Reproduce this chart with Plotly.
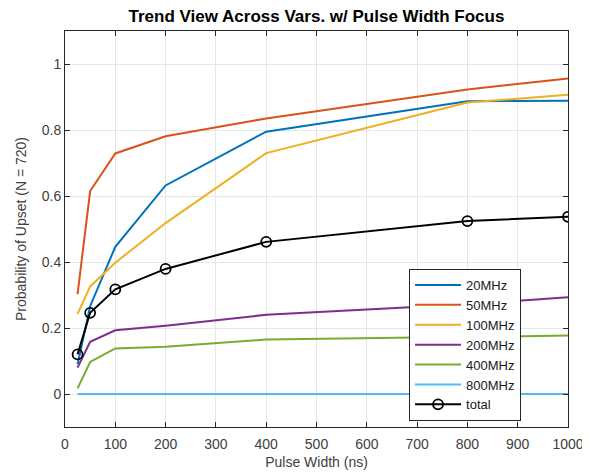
import plotly.graph_objects as go

pulse_width = [25, 50, 100, 200, 400, 800, 1000]
p_20mhz = [0.09, 0.266, 0.446, 0.632, 0.795, 0.887, 0.889]
p_50mhz = [0.303, 0.615, 0.729, 0.781, 0.835, 0.923, 0.956]
p_100mhz = [0.243, 0.326, 0.398, 0.518, 0.73, 0.883, 0.907]
p_200mhz = [0.08, 0.158, 0.193, 0.207, 0.24, 0.272, 0.293]
p_400mhz = [0.017, 0.097, 0.138, 0.143, 0.165, 0.173, 0.177]
p_800mhz = [0, 0, 0, 0, 0, 0, 0]
p_total = [0.12, 0.246, 0.317, 0.379, 0.461, 0.524, 0.537]

series = [
    ("20MHz", p_20mhz, "#0072BD"),
    ("50MHz", p_50mhz, "#D95319"),
    ("100MHz", p_100mhz, "#EDB120"),
    ("200MHz", p_200mhz, "#7E2F8E"),
    ("400MHz", p_400mhz, "#77AC30"),
    ("800MHz", p_800mhz, "#4DBEEE"),
]

FONT = "Liberation Sans, Arial, sans-serif"

fig = go.Figure()
for name, vals, col in series:
    fig.add_trace(go.Scatter(x=pulse_width, y=vals, mode="lines", name=name,
                             line=dict(color=col, width=2)))
fig.add_trace(go.Scatter(x=pulse_width, y=p_total, mode="lines+markers", name="total",
                         line=dict(color="black", width=2),
                         marker=dict(symbol="circle-open", size=10, color="black",
                                     line=dict(width=1.8, color="black"))))

axis_common = dict(
    showline=True, linecolor="#262626", linewidth=1, mirror="ticks",
    ticks="inside", ticklen=5, tickcolor="#262626",
    showgrid=True, gridcolor="#e6e6e6", gridwidth=1, zeroline=False,
    automargin=False,
    tickfont=dict(family=FONT, size=14, color="#404040"),
)

fig.update_layout(
    width=582, height=466,
    margin=dict(l=57, r=22, t=23, b=47, autoexpand=False),
    paper_bgcolor="white", plot_bgcolor="white",
    title=dict(text="<b>Trend View Across Vars. w/ Pulse Width Focus</b>",
               xref="paper", x=0.5, xanchor="center", y=0.983, yanchor="middle",
               font=dict(family=FONT, size=17, color="#000000")),
    xaxis=dict(range=[0, 1000], tickvals=list(range(0, 1001, 100)),
               ticklabelstandoff=4,
               title=dict(text="Pulse Width (ns)", standoff=6,
                          font=dict(family=FONT, size=14, color="#404040")),
               **axis_common),
    yaxis=dict(range=[-0.1, 1.1], tickvals=[0, 0.2, 0.4, 0.6, 0.8, 1],
               ticktext=["0", "0.2", "0.4", "0.6", "0.8", "1"],
               title=dict(text="Probability of Upset (N = 720)", standoff=11,
                          font=dict(family=FONT, size=14, color="#404040")),
               **axis_common),
    legend=dict(x=0.684, y=0.399, xanchor="left", yanchor="top",
                bgcolor="white", bordercolor="#262626", borderwidth=1,
                font=dict(family=FONT, size=13, color="#1a1a1a"),
                tracegroupgap=0, itemwidth=46),
    showlegend=True,
)

fig.write_html("out.html")
